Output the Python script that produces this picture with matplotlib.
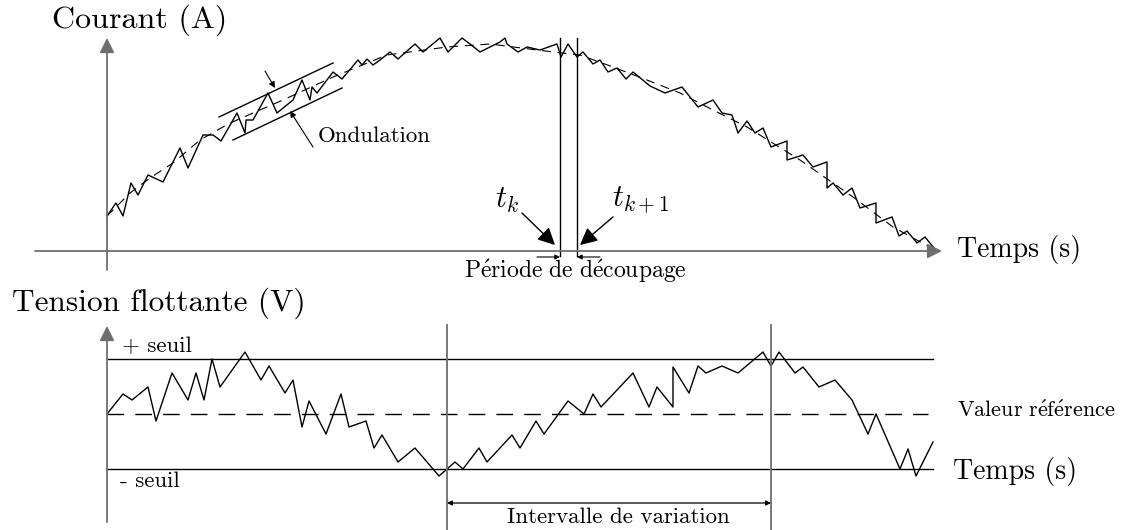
import matplotlib.pyplot as plt

plt.rcParams['font.family'] = ['cmr10', 'DejaVu Serif']
plt.rcParams['mathtext.fontset'] = 'cm'

# courant : ondulation mesurée (pixels du schéma)
courant_x = [107, 116, 123, 131, 138, 148, 163, 180, 188, 203, 213, 221, 237, 245, 246, 253,
             268, 277, 293, 302, 310, 312, 317, 333, 342, 358, 362, 367, 373, 380, 390, 398,
             415, 423, 440, 448, 462, 470, 480, 500, 505, 507, 518, 527, 540, 557, 561, 568,
             577, 583, 593, 600, 608, 617, 626, 633, 650, 665, 682, 698, 713, 722, 732, 738,
             747, 755, 763, 771, 787, 787, 803, 813, 827, 827, 833, 843, 852, 860, 876, 876,
             892, 899, 907, 917, 925, 934]
courant_y = [216, 203, 216, 183, 195, 175, 182, 148, 168, 135, 135, 141, 113, 133, 120, 120,
             93, 113, 100, 80, 100, 87, 93, 72, 79, 60, 65, 59, 65, 60, 52, 59,
             44, 52, 38, 52, 38, 44, 52, 42, 38, 44, 52, 47, 50, 44, 57, 44,
             57, 52, 64, 60, 72, 68, 79, 72, 86, 93, 87, 107, 100, 113, 115, 133,
             121, 133, 128, 147, 141, 160, 155, 167, 162, 188, 183, 195, 188, 208, 203, 223,
             217, 236, 231, 243, 237, 248]

# courant de référence (tirets)
ref_x = [107, 130, 150, 173, 200, 230, 283, 333, 387, 447, 490, 537, 580, 613, 647, 680,
         713, 747, 800, 853, 893, 935]
ref_y = [216, 193, 178, 163, 140, 123, 100, 77, 55, 47, 44, 50, 55, 67, 80, 93,
         110, 127, 160, 197, 227, 250]

# tension flottante
tension_x = [107, 123, 132, 148, 156, 172, 188, 196, 204, 212, 220, 245, 261, 269, 285, 293,
             302, 309, 326, 341, 349, 366, 374, 382, 398, 415, 439, 455, 463, 479, 487, 512,
             520, 536, 544, 568, 584, 593, 601, 633, 649, 657, 673, 673, 689, 698, 706, 722,
             738, 763, 771, 779, 795, 803, 819, 835, 852, 868, 876, 900, 908, 916, 933]
tension_y = [414, 394, 400, 387, 421, 373, 400, 373, 400, 359, 387, 352, 380, 366, 393, 380,
             427, 401, 434, 394, 427, 421, 448, 435, 462, 448, 476, 462, 469, 448, 462, 435,
             448, 421, 434, 401, 414, 394, 407, 373, 407, 387, 407, 367, 393, 366, 373, 366,
             373, 352, 366, 352, 373, 367, 387, 380, 400, 434, 414, 469, 449, 476, 442]

gris = '#6e6e6e'
fig = plt.figure(figsize=(11.3, 5.3), dpi=100)
ax = fig.add_axes([0, 0, 1, 1])
ax.set_xlim(0, 1130)
ax.set_ylim(530, 0)
ax.axis('off')


def fleche(x0, y0, x1, y1, couleur='black', taille=18, lw=1.0, style='-|>'):
    ax.annotate('', xy=(x1, y1), xytext=(x0, y0),
                arrowprops=dict(arrowstyle=style, color=couleur, lw=lw,
                                mutation_scale=taille, shrinkA=0, shrinkB=0))


# ---- panneau du haut ----
fleche(107, 270, 107, 38, gris, 22, 1.3)
fleche(35, 251, 942, 251, gris, 22, 1.3)
ax.plot(ref_x, ref_y, color='black', lw=0.8, dashes=(8, 6))
ax.plot(courant_x, courant_y, color='black', lw=1.0)

# enveloppe d'ondulation
ax.plot([219, 333], [117, 63], color='black', lw=1.0)
ax.plot([233, 342], [140, 88], color='black', lw=1.0)
fleche(265, 71, 275, 88, 'black', 9, 0.8)
fleche(313, 147, 290, 111, 'black', 9, 0.8)
ax.text(318, 136, 'Ondulation', fontsize=16.5, va='center')

# période de découpage
for xv in [560, 577]:
    ax.plot([xv, xv], [38, 256], color='black', lw=1.0)
fleche(537, 257, 560, 257, 'black', 7, 0.8)
fleche(600, 257, 577, 257, 'black', 7, 0.8)
ax.text(575, 271, r'$\mathrm{P\acute{e}riode\ de\ d\acute{e}coupage}$',
        fontsize=17, ha='center', va='center')
ax.text(495, 200, r'$t_k$', fontsize=22, va='center')
ax.text(612, 200, r'$t_{k+1}$', fontsize=22, va='center')
fleche(522, 213, 555, 245, 'black', 26, 1.0)
fleche(613, 217, 580, 245, 'black', 26, 1.0)

ax.text(52, 20, 'Courant (A)', fontsize=23, va='center')
ax.text(957, 250, 'Temps (s)', fontsize=20, va='center')

# ---- panneau du bas ----
fleche(107, 522, 107, 326, gris, 22, 1.3)
ax.plot([107, 933], [359, 359], color='black', lw=1.0)
ax.plot([107, 933], [469, 469], color='black', lw=1.0)
ax.plot([107, 928], [414, 414], color='black', lw=1.0, dashes=(12, 8))
ax.plot(tension_x, tension_y, color='black', lw=1.0)
for xv in [447, 771]:
    ax.plot([xv, xv], [325, 530], color=gris, lw=1.3)
fleche(447, 503, 771, 503, 'black', 7, 0.9, style='<|-|>')
ax.text(618, 517, 'Intervalle de variation', fontsize=16.5, ha='center', va='center')

ax.text(12, 303, 'Tension flottante (V)', fontsize=22.5, va='center')
ax.text(122, 346, '+ seuil', fontsize=16.5, va='center')
ax.text(120, 481, '- seuil', fontsize=16.5, va='center')
ax.text(957, 410, r'$\mathrm{Valeur\ r\acute{e}f\acute{e}rence}$', fontsize=16, va='center')
ax.text(953, 471, 'Temps (s)', fontsize=20, va='center')

fig.savefig('out.png', dpi=100, facecolor='white')
